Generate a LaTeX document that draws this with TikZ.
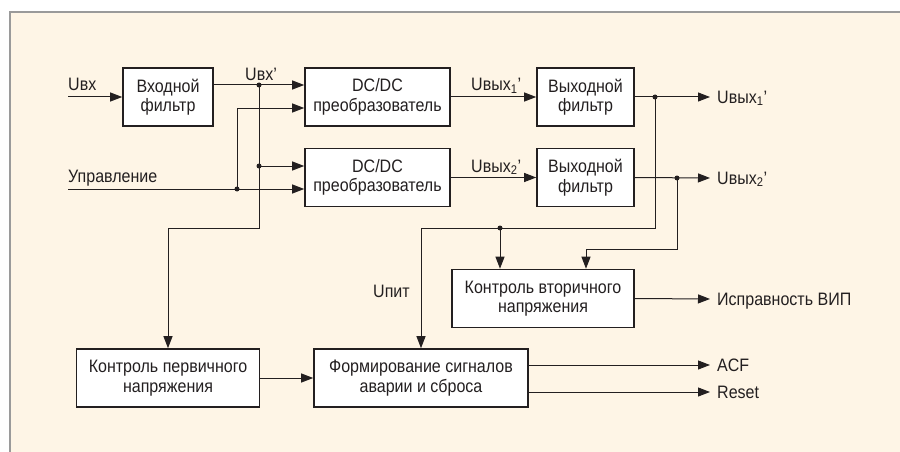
\documentclass[tikz,border=0pt]{standalone}
\usepackage{fontspec}
\setmainfont{Liberation Sans}[FakeStretch=0.89]
\usetikzlibrary{arrows.meta,calc}

\definecolor{paper}{HTML}{FEF5E6}
\definecolor{rim}{HTML}{9A9A9A}
\definecolor{ink}{HTML}{231F20}

\begin{document}
\begin{tikzpicture}[x=1pt,y=-1pt,
  block/.style={draw=ink, line width=1.6pt, fill=white, align=center,
    inner sep=0pt, minimum height=58pt, text=ink, font=\fontsize{18}{19.5}\selectfont},
  lbl/.style={text=ink, inner sep=0pt, font=\fontsize{18}{19.5}\selectfont},
  wire/.style={draw=ink, line width=1pt},
  feed/.style={wire, -{Triangle[length=12pt,width=9pt]}},
  jdot/.style={circle, fill=ink, inner sep=0pt, minimum size=5pt}]

  % Frame
  \useasboundingbox (0,0) rectangle (900,452);
  \fill[paper] (10,12) rectangle (900,452);
  \draw[rim, line width=2.2pt] (10,452) -- (10,12) -- (900,12);

  % Blocks
  \node[block, minimum width=90pt]  (infl) at (168,97)    {Входной\\фильтр};
  \node[block, minimum width=145pt] (dc1)  at (377.5,97)  {DC/DC\\преобразователь};
  \node[block, minimum width=145pt] (dc2)  at (377.5,177.5) {DC/DC\\преобразователь};
  \node[block, minimum width=97pt]  (of1)  at (585.5,97)  {Выходной\\фильтр};
  \node[block, minimum width=97pt]  (of2)  at (585.5,177.5) {Выходной\\фильтр};
  \node[block, minimum width=182pt] (kv)   at (543,298.5) {Контроль вторичного\\напряжения};
  \node[block, minimum width=183pt] (kp)   at (168,378)   {Контроль первичного\\напряжения};
  \node[block, minimum width=214pt] (fs)   at (421,378)   {Формирование сигналов\\аварии и сброса};

  % Junctions and bus levels
  \coordinate (j1) at (259,85);
  \coordinate (j2) at (259,166);
  \coordinate (j3) at (237,189);
  \coordinate (j4) at (655,97);
  \coordinate (j5) at (500,228);
  \coordinate (j6) at (677,178);
  \coordinate (busA) at (0,228);
  \coordinate (busB) at (0,249);
  \coordinate (vin) at (68,97);
  \coordinate (ctl) at (68,189);

  % Input side
  \draw[feed] (vin) -- (infl.west);
  \draw[feed] ([yshift=12pt]infl.east) -- ([yshift=12pt]dc1.west);
  \draw[feed] (j1) -- (j1 |- busA) -| (kp.north);
  \draw[feed] (j2) -- ([yshift=11.5pt]dc2.west);
  \draw[feed] (ctl) -- ([yshift=-11.5pt]dc2.west);
  \draw[feed] (j3) |- ([yshift=-11pt]dc1.west);

  % Converter outputs
  \draw[feed] (dc1.east) -- (of1.west);
  \draw[feed] (dc2.east) -- (of2.west);

  % Right-hand outputs
  \foreach \tag/\yy/\txt in {o1/97/{Uвых\textsubscript{1}'}, o2/178/{Uвых\textsubscript{2}'},
      ok/299/{Исправность ВИП}, acf/365/{ACF}, rst/392/{Reset}}{
    \coordinate (\tag) at (710,\yy);
    \node[lbl, anchor=base west] (\tag lbl) at ($(\tag)+(7,6)$) {\txt};
  }
  \draw[feed] (of1.east) -- (o1);
  \draw[feed] (of2.east) -- (o2);
  \draw[feed] (kv.east) -- (ok);
  \draw[feed] ([yshift=13pt]fs.east) -- (acf);
  \draw[feed] ([yshift=-14pt]fs.east) -- (rst);

  % Supply and monitoring
  \draw[feed] (j4) -- (j4 |- busA) -| (fs.north);
  \draw[feed] (j5) -- (j5 |- kv.north);
  \draw[feed] (j6) -- (j6 |- busB) -| ([xshift=43pt]kv.north);
  \draw[feed] (kp.east) -- (fs.west);

  \foreach \j in {j1,j2,j3,j4,j5,j6}{
    \node[jdot] (\j dot) at (\j) {};
  }

  % Signal labels
  \node[lbl, anchor=base west] (uinlbl)  at (68,91)  {Uвх};
  \node[lbl, anchor=base west] (uinplbl) at (245,81) {Uвх'};
  \node[lbl, anchor=base west] (ctllbl)  at (68,182) {Управление};
  \node[lbl, anchor=base west] (u1lbl)   at (471,91) {Uвых\textsubscript{1}'};
  \node[lbl, anchor=base west] (u2lbl)   at (471,172) {Uвых\textsubscript{2}'};
  \node[lbl, anchor=base west] (upitlbl) at (373,297) {Uпит};

\end{tikzpicture}
\end{document}
